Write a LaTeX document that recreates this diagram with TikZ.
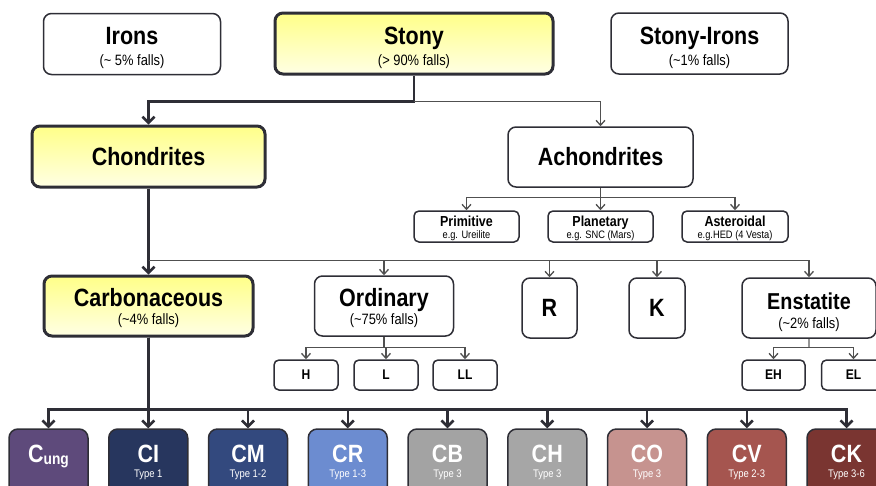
\documentclass[tikz,border=0pt]{standalone}
\usepackage{fontspec}
\setmainfont{Liberation Sans}[FakeStretch=0.86]
\usetikzlibrary{arrows.meta}

\definecolor{edge}{HTML}{2E2E36}
\definecolor{thinline}{HTML}{505050}
\definecolor{yeltop}{HTML}{FFFF88}
\definecolor{yelbot}{HTML}{FFFFE4}
\definecolor{cungcol}{HTML}{5E4A7B}
\definecolor{cicol}{HTML}{27365E}
\definecolor{cmcol}{HTML}{33497E}
\definecolor{crcol}{HTML}{6C8CD0}
\definecolor{cbcol}{HTML}{A3A3A3}
\definecolor{chcol}{HTML}{A6A6A6}
\definecolor{cocol}{HTML}{C6938F}
\definecolor{cvcol}{HTML}{A5554F}
\definecolor{ckcol}{HTML}{7A3531}

\newcommand{\lift}[1]{\rule{0pt}{#1}}
\newcommand{\ttl}[2][25]{{\bfseries\fontsize{#1}{18}\selectfont #2}}

\tikzset{
  box/.style={draw=edge, line width=1.5pt, rounded corners=8pt, fill=white,
    inner sep=0pt, align=center, font=\fontsize{15}{18}\selectfont},
  mainbox/.style={box, line width=3pt, top color=yeltop, bottom color=yelbot},
  smallbox/.style={box, rounded corners=5pt, font=\fontsize{10.8}{12}\selectfont},
  classbox/.style={draw=edge, line width=1.5pt, rounded corners=9pt, inner sep=0pt,
    minimum width=79pt, minimum height=66pt, align=center, text=white,
    font=\fontsize{11}{15}\selectfont},
  bigarrow/.style={draw=edge, line width=2.5pt, -{Straight Barb[length=6pt,width=12pt]}},
  smallarrow/.style={draw=thinline, line width=1.3pt, -{Straight Barb[length=5pt,width=9pt]}},
}

\begin{document}
\begin{tikzpicture}[x=1pt,y=-1pt]
  \useasboundingbox (0,0) rectangle (876,485);
  \clip (0,0) rectangle (876,485);

  % top row
  \node[box, minimum width=177pt, minimum height=61pt] (irons) at (132,44)
    {\ttl{\lift{26pt}Irons}\\[3pt] (\textasciitilde{} 5\% falls)};
  \node[mainbox, minimum width=278pt, minimum height=61pt] (stony) at (414,43.5)
    {\ttl{\lift{26pt}Stony}\\[3pt] (> 90\% falls)};
  \node[box, minimum width=177pt, minimum height=61pt] (stonyirons) at (699.5,43.5)
    {\ttl{\lift{26pt}Stony-Irons}\\[3pt] (\textasciitilde1\% falls)};

  % second row
  \node[mainbox, minimum width=233pt, minimum height=61pt] (chondrites) at (148.5,156.5)
    {\ttl{Chondrites}};
  \node[box, minimum width=185pt, minimum height=60pt] (achondrites) at (600.5,157)
    {\ttl{Achondrites}};

  \node[smallbox, minimum width=105pt, minimum height=31pt] (primitive) at (466.5,226.5)
    {\ttl[14.5]{\lift{13.5pt}Primitive}\\ e.g. Ureilite};
  \node[smallbox, minimum width=105pt, minimum height=31pt] (planetary) at (600.5,226.5)
    {\ttl[14.5]{\lift{13.5pt}Planetary}\\ e.g. SNC (Mars)};
  \node[smallbox, minimum width=106pt, minimum height=31pt] (asteroidal) at (735,226.5)
    {\ttl[14.5]{\lift{13.5pt}Asteroidal}\\ e.g.HED (4 Vesta)};

  % third row
  \node[mainbox, minimum width=209pt, minimum height=60pt] (carbonaceous) at (148.5,306)
    {\ttl{\lift{23pt}Carbonaceous}\\ (\textasciitilde4\% falls)};
  \node[box, minimum width=139pt, minimum height=60pt] (ordinary) at (384,306)
    {\ttl{\lift{23pt}Ordinary}\\ (\textasciitilde75\% falls)};
  \node[box, minimum width=55pt, minimum height=60pt] (r) at (549.5,308) {\ttl{R}};
  \node[box, minimum width=56pt, minimum height=60pt] (k) at (657,308) {\ttl{K}};
  \node[box, minimum width=134pt, minimum height=60pt] (enstatite) at (809,308)
    {\ttl[23]{\lift{26pt}Enstatite}\\[1pt] (\textasciitilde2\% falls)};

  \node[smallbox, minimum width=64pt, minimum height=30pt] (h) at (306,375) {\ttl[14]{H}};
  \node[smallbox, minimum width=64pt, minimum height=30pt] (l) at (386,375) {\ttl[14]{L}};
  \node[smallbox, minimum width=64pt, minimum height=30pt] (ll) at (465,375) {\ttl[14]{LL}};
  \node[smallbox, minimum width=63pt, minimum height=30pt] (eh) at (773.5,375) {\ttl[14]{EH}};
  \node[smallbox, minimum width=64pt, minimum height=30pt] (el) at (853.5,375) {\ttl[14]{EL}};

  % carbonaceous groups
  \foreach \cname/\ccol/\ctitle/\ctype [count=\i from 0] in {
      cung/cungcol/{C\raisebox{-2pt}{\fontsize{16}{16}\selectfont ung}}/{\phantom{Type}},
      ci/cicol/CI/Type 1, cm/cmcol/CM/Type 1-2, cr/crcol/CR/Type 1-3,
      cb/cbcol/CB/Type 3, ch/chcol/CH/Type 3, co/cocol/CO/Type 3,
      cv/cvcol/CV/Type 2-3, ck/ckcol/CK/Type 3-6}
    \node[classbox, fill=\ccol] (\cname) at (48.5+99.75*\i,462)
      {{\bfseries\fontsize{25}{15}\selectfont\ctitle}\\ \ctype};

  % connectors
  \coordinate (sj) at ([yshift=-26pt]stony.south);
  \draw[bigarrow] (stony.south) -- (sj) -| (chondrites.north);
  \draw[smallarrow] (sj) -| (achondrites.north);

  \coordinate (aj) at ([yshift=-10pt]achondrites.south);
  \foreach \t in {primitive,planetary,asteroidal}
    \draw[smallarrow] (achondrites.south) -- (aj) -| (\t.north);

  \coordinate (cj) at ([yshift=-72pt]chondrites.south);
  \draw[bigarrow] (chondrites.south) -- (carbonaceous.north);
  \foreach \t in {ordinary,r,k,enstatite}
    \draw[smallarrow] (cj) -| (\t.north);

  \coordinate (oj) at ([yshift=-11pt]ordinary.south);
  \foreach \t in {h,l,ll}
    \draw[smallarrow] (ordinary.south) -- (oj) -| (\t.north);

  \coordinate (ej) at ([yshift=-9pt]enstatite.south);
  \draw[thinline!60, line width=1.2pt] (enstatite.south) -- (ej);
  \foreach \t in {eh,el}
    \draw[smallarrow] (ej) -| (\t.north);

  \coordinate (kj) at ([yshift=-72pt]carbonaceous.south);
  \foreach \t in {cung,ci,cm,cr,cb,ch,co,cv,ck}
    \draw[bigarrow] (carbonaceous.south) -- (kj) -| (\t.north);
\end{tikzpicture}
\end{document}
